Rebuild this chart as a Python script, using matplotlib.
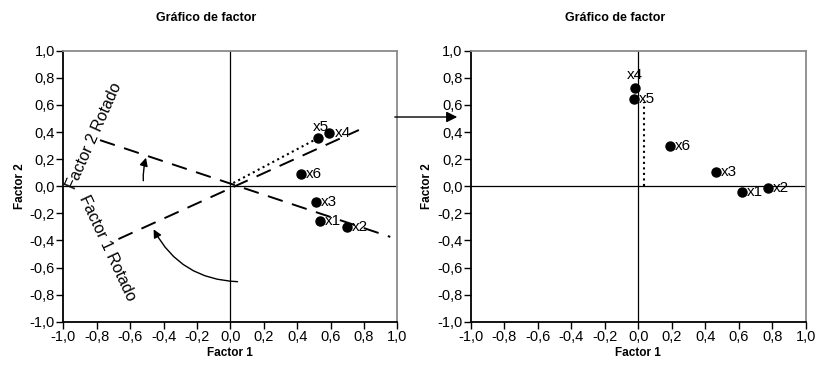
import matplotlib
matplotlib.use("Agg")
import matplotlib.pyplot as plt
from matplotlib.patches import FancyArrowPatch

plt.rcParams['font.family'] = ['Liberation Sans', 'DejaVu Sans']

# --- DATA ---
variables = ["x1", "x2", "x3", "x4", "x5", "x6"]
# unrotated loadings (left)
f1_orig = [0.537, 0.70, 0.513, 0.593, 0.527, 0.425]
f2_orig = [-0.255, -0.30, -0.114, 0.39, 0.358, 0.09]
# rotated loadings (right)
f1_rot = [0.618, 0.773, 0.461, -0.021, -0.027, 0.19]
f2_rot = [-0.042, -0.015, 0.105, 0.723, 0.646, 0.30]

# rotated axes drawn on the left plot
rot_axis1_x = [-0.67, 0.77]
rot_axis1_y = [-0.39, 0.415]
rot_axis2_x = [-0.78, 0.958]
rot_axis2_y = [0.34, -0.374]
proj_left_x = [0.018, 0.539]
proj_left_y = [0.024, 0.364]
proj_right_x = [0.033, 0.033]
proj_right_y = [0.0, 0.62]

tick_vals = [-1.0, -0.8, -0.6, -0.4, -0.2, 0.0, 0.2, 0.4, 0.6, 0.8, 1.0]
tick_labels = ["-1,0", "-0,8", "-0,6", "-0,4", "-0,2", "0,0", "0,2", "0,4", "0,6", "0,8", "1,0"]

fig = plt.figure(figsize=(8.18, 3.66), dpi=100)
ax1 = fig.add_axes([0.0774, 0.121, 0.4083, 0.7404])
ax2 = fig.add_axes([0.5758, 0.121, 0.4092, 0.7404])


def style_axes(ax):
    ax.set_xlim(-1, 1)
    ax.set_ylim(-1, 1)
    ax.set_xticks(tick_vals)
    ax.set_xticklabels(tick_labels)
    ax.set_yticks(tick_vals)
    ax.set_yticklabels(tick_labels)
    ax.tick_params(direction="out", length=5, width=1, labelsize=10.5, pad=1)
    for s in ["left", "bottom"]:
        ax.spines[s].set_color("black")
        ax.spines[s].set_linewidth(1.3)
    for s in ["top", "right"]:
        ax.spines[s].set_color("#8a8a8a")
        ax.spines[s].set_linewidth(1.3)
    ax.axhline(0, color="black", lw=0.9, zorder=1)
    ax.axvline(0, color="black", lw=0.9, zorder=1)
    ax.set_xlabel("Factor 1", fontsize=8.5, fontweight="bold", labelpad=2)
    ax.set_ylabel("Factor 2", fontsize=8.5, fontweight="bold", labelpad=3)


style_axes(ax1)
style_axes(ax2)

# --- left plot ---
ax1.plot(rot_axis1_x, rot_axis1_y, color="black", lw=1.4, dashes=(8, 5))
ax1.plot(rot_axis2_x, rot_axis2_y, color="black", lw=1.4, dashes=(8, 5))
ax1.plot(proj_left_x, proj_left_y, color="black", lw=1.5, linestyle=":")
ax1.plot(f1_orig, f2_orig, "o", color="black", markersize=6.5, zorder=3)

left_offsets = {"x5": (-0.035, 0.08)}
for name, x, y in zip(variables, f1_orig, f2_orig):
    if name in left_offsets:
        dx, dy = left_offsets[name]
    else:
        dx, dy = 0.03, 0.0
    ax1.text(x + dx, y + dy, name, fontsize=11, va="center", ha="left")

# captions of the rotated axes
ax1.text(-0.813, 0.374, "Factor 2 Rotado", rotation=66, rotation_mode="anchor",
         ha="center", va="center", fontsize=11.5)
ax1.text(-0.737, -0.455, "Factor 1 Rotado", rotation=-65, rotation_mode="anchor",
         ha="center", va="center", fontsize=11.5)

small_arrow = FancyArrowPatch((-0.52, 0.02), (-0.50, 0.23), arrowstyle="-|>",
                              mutation_scale=12, color="black", lw=1.0,
                              connectionstyle="arc3,rad=-0.1")
ax1.add_patch(small_arrow)
big_arrow = FancyArrowPatch((0.06, -0.705), (-0.467, -0.30), arrowstyle="-|>",
                            mutation_scale=12, color="black", lw=1.0,
                            connectionstyle="arc3,rad=-0.3")
ax1.add_patch(big_arrow)

# --- right plot ---
ax2.plot(proj_right_x, proj_right_y, color="black", lw=1.5, linestyle=":")
ax2.plot(f1_rot, f2_rot, "o", color="black", markersize=6.5, zorder=3)
right_offsets = {"x4": (-0.05, 0.1)}
for name, x, y in zip(variables, f1_rot, f2_rot):
    if name in right_offsets:
        dx, dy = right_offsets[name]
    else:
        dx, dy = 0.03, 0.0
    ax2.text(x + dx, y + dy, name, fontsize=11, va="center", ha="left")

# titles centred on each half of the figure
fig.text(0.252, 0.95, "Gráfico de factor", ha="center", va="center",
         fontsize=9, fontweight="bold")
fig.text(0.752, 0.95, "Gráfico de factor", ha="center", va="center",
         fontsize=9, fontweight="bold")

# arrow between the two panels
link = FancyArrowPatch((392 / 818, 1 - 117 / 366), (460 / 818, 1 - 117 / 366),
                       transform=fig.transFigure, arrowstyle="-|>",
                       mutation_scale=16, color="black", lw=1.0)
fig.patches.append(link)

fig.savefig("out.png", dpi=100)
